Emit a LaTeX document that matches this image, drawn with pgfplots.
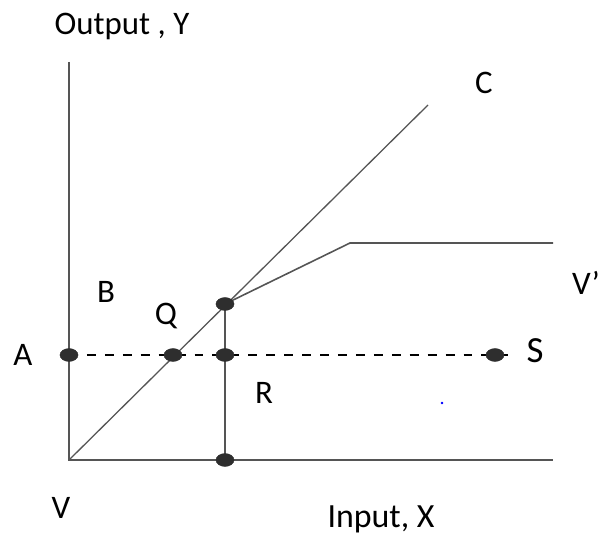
\documentclass[border=0pt]{standalone}
\usepackage{pgfplots}
\pgfplotsset{compat=1.18}
\usepackage{fontspec}
\setmainfont{Carlito}
\definecolor{linegray}{HTML}{555555}
\definecolor{dotgray}{HTML}{2E2E2E}
\begin{document}
\fontsize{33}{38}\selectfont
\begin{tikzpicture}
\begin{axis}[
    scale only axis,
    width=601bp, height=537bp,
    xmin=0, xmax=601, ymin=0, ymax=537,
    hide axis, clip=false,
]
% axes
\addplot[linegray, line width=2pt] coordinates {(69,475) (69,77) (553,77)};
% 45-degree line
\addplot[linegray, line width=1.3pt] coordinates {(69,77) (428,432)};
% kinked line
\addplot[linegray, line width=1.6pt] coordinates {(225,233) (350,294) (553,294)};
% vertical segment
\addplot[linegray, line width=2pt] coordinates {(225,233) (225,77)};
% dashed line
\addplot[black, line width=1.3pt, dash pattern=on 9pt off 9pt] coordinates {(69,182) (512,182)};
% points
\addplot[only marks, mark=*, mark size=6.5pt, mark options={xscale=1.4, fill=dotgray, draw=dotgray}]
    coordinates {(69,182) (173,182) (225,182) (225,233) (225,77) (495,182)};
\addplot[only marks, mark=*, mark size=1pt, blue] coordinates {(442,134)};
% labels
\node[anchor=base, inner sep=0pt] at (axis cs:122,502) {Output , Y};
\node[anchor=base, inner sep=0pt] at (axis cs:484,443) {C};
\node[anchor=base east, inner sep=0pt] at (axis cs:600,242) {V'};
\node[anchor=base, inner sep=0pt] at (axis cs:106,234) {B};
\node[anchor=base, inner sep=0pt] at (axis cs:166,212) {Q};
\node[anchor=base, inner sep=0pt] at (axis cs:23,171) {A};
\node[anchor=base, inner sep=0pt] at (axis cs:535,174) {\fontsize{37}{40}\selectfont S};
\node[anchor=base, inner sep=0pt] at (axis cs:264,133) {R};
\node[anchor=base, inner sep=0pt] at (axis cs:61,19) {V};
\node[anchor=base, inner sep=0pt] at (axis cs:381,10) {\fontsize{34}{38}\selectfont Input, X};
\end{axis}
\pgfresetboundingbox
\useasboundingbox (0,0) rectangle (601bp,537bp);
\end{tikzpicture}
\end{document}
